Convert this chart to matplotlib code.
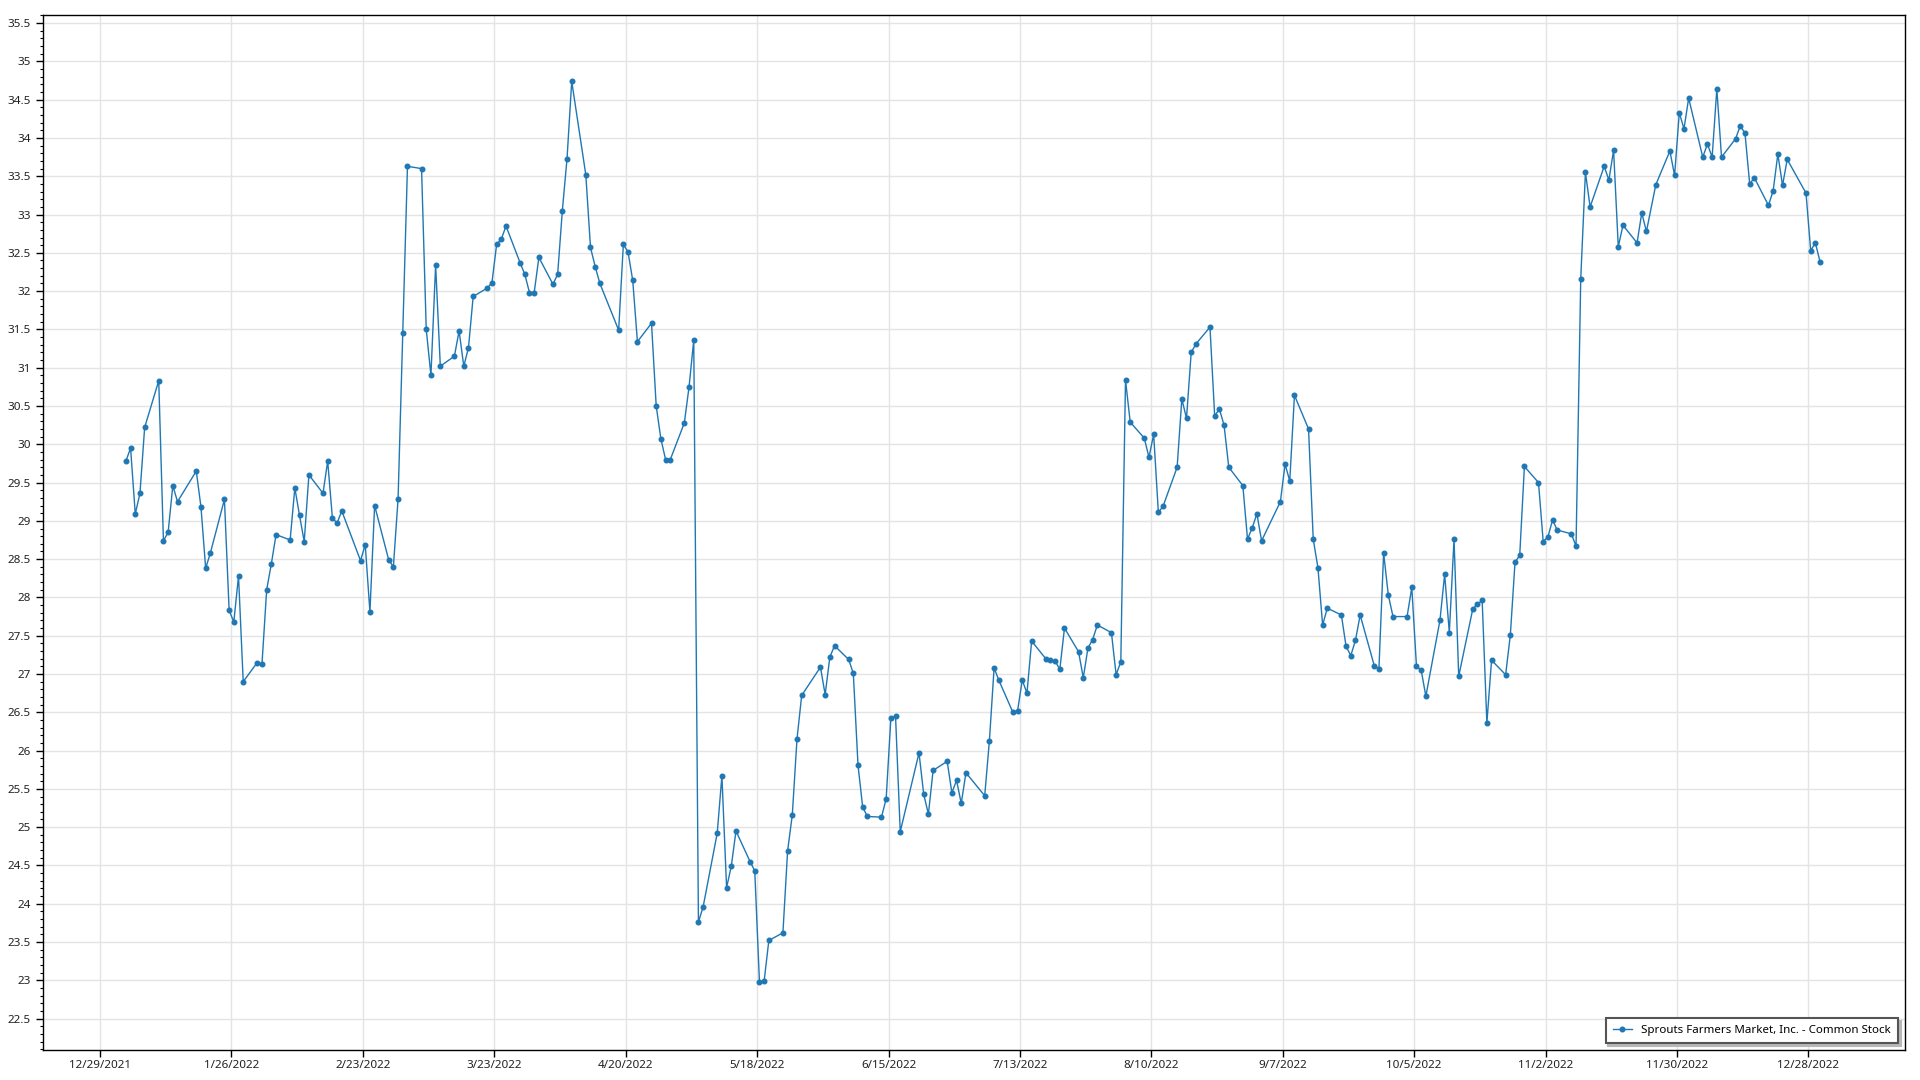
import matplotlib
matplotlib.use("Agg")
import matplotlib.pyplot as plt
from matplotlib.ticker import MultipleLocator, FuncFormatter
import pandas as pd

plt.rcParams["font.family"] = ["Noto Sans", "DejaVu Sans"]

# trading days of 2022 (month/day) and closing prices
dates = [
    "1/3", "1/4", "1/5", "1/6", "1/7", "1/10", "1/11", "1/12", "1/13", "1/14",
    "1/18", "1/19", "1/20", "1/21", "1/24", "1/25", "1/26", "1/27", "1/28", "1/31",
    "2/1", "2/2", "2/3", "2/4", "2/7", "2/8", "2/9", "2/10", "2/11", "2/14",
    "2/15", "2/16", "2/17", "2/18", "2/22", "2/23", "2/24", "2/25", "2/28",
    "3/1", "3/2", "3/3", "3/4", "3/7", "3/8", "3/9", "3/10", "3/11", "3/14",
    "3/15", "3/16", "3/17", "3/18", "3/21", "3/22", "3/23", "3/24", "3/25", "3/28",
    "3/29", "3/30", "3/31",
    "4/1", "4/4", "4/5", "4/6", "4/7", "4/8", "4/11", "4/12", "4/13", "4/14",
    "4/18", "4/19", "4/20", "4/21", "4/22", "4/25", "4/26", "4/27", "4/28", "4/29",
    "5/2", "5/3", "5/4", "5/5", "5/6", "5/9", "5/10", "5/11", "5/12", "5/13",
    "5/16", "5/17", "5/18", "5/19", "5/20", "5/23", "5/24", "5/25", "5/26", "5/27", "5/31",
    "6/1", "6/2", "6/3", "6/6", "6/7", "6/8", "6/9", "6/10", "6/13", "6/14",
    "6/15", "6/16", "6/17", "6/21", "6/22", "6/23", "6/24", "6/27", "6/28", "6/29", "6/30",
    "7/1", "7/5", "7/6", "7/7", "7/8", "7/11", "7/12", "7/13", "7/14", "7/15",
    "7/18", "7/19", "7/20", "7/21", "7/22", "7/25", "7/26", "7/27", "7/28", "7/29",
    "8/1", "8/2", "8/3", "8/4", "8/5", "8/8", "8/9", "8/10", "8/11", "8/12",
    "8/15", "8/16", "8/17", "8/18", "8/19", "8/22", "8/23", "8/24", "8/25", "8/26",
    "8/29", "8/30", "8/31",
    "9/1", "9/2", "9/6", "9/7", "9/8", "9/9", "9/12", "9/13", "9/14", "9/15",
    "9/16", "9/19", "9/20", "9/21", "9/22", "9/23", "9/26", "9/27", "9/28", "9/29", "9/30",
    "10/3", "10/4", "10/5", "10/6", "10/7", "10/10", "10/11", "10/12", "10/13", "10/14",
    "10/17", "10/18", "10/19", "10/20", "10/21", "10/24", "10/25", "10/26", "10/27", "10/28", "10/31",
    "11/1", "11/2", "11/3", "11/4", "11/7", "11/8", "11/9", "11/10", "11/11", "11/14",
    "11/15", "11/16", "11/17", "11/18", "11/21", "11/22", "11/23", "11/25", "11/28", "11/29", "11/30",
    "12/1", "12/2", "12/5", "12/6", "12/7", "12/8", "12/9", "12/12", "12/13", "12/14",
    "12/15", "12/16", "12/19", "12/20", "12/21", "12/22", "12/23", "12/27", "12/28", "12/29", "12/30",
]

close = [
    29.78, 29.95, 29.09, 29.36, 30.22, 30.83, 28.74, 28.85, 29.46, 29.25,
    29.65, 29.18, 28.38, 28.58, 29.28, 27.83, 27.68, 28.28, 26.90, 27.15,
    27.13, 28.10, 28.44, 28.82, 28.75, 29.43, 29.07, 28.73, 29.60, 29.36,
    29.78, 29.04, 28.97, 29.13, 28.48, 28.69, 27.81, 29.20, 28.49,
    28.40, 29.29, 31.45, 33.63, 33.60, 31.50, 30.90, 32.34, 31.02, 31.15,
    31.48, 31.02, 31.26, 31.93, 32.04, 32.11, 32.61, 32.68, 32.85, 32.37,
    32.22, 31.98, 31.98,
    32.44, 32.09, 32.22, 33.05, 33.73, 34.74, 33.52, 32.57, 32.32, 32.10,
    31.49, 32.61, 32.51, 32.14, 31.34, 31.58, 30.50, 30.07, 29.80, 29.80,
    30.28, 30.75, 31.36, 23.76, 23.96, 24.92, 25.67, 24.21, 24.49, 24.95,
    24.55, 24.43, 22.98, 22.99, 23.52, 23.62, 24.69, 25.16, 26.15, 26.72, 27.09,
    26.73, 27.22, 27.37, 27.19, 27.01, 25.81, 25.26, 25.14, 25.13, 25.37,
    26.42, 26.45, 24.94, 25.97, 25.43, 25.17, 25.74, 25.86, 25.45, 25.61, 25.31,
    25.71, 25.41, 26.13, 27.08, 26.92, 26.50, 26.52, 26.92, 26.75, 27.43,
    27.20, 27.18, 27.17, 27.06, 27.60, 27.29, 26.95, 27.34, 27.45, 27.64,
    27.54, 26.99, 27.16, 30.84, 30.29, 30.08, 29.83, 30.13, 29.11, 29.19,
    29.70, 30.59, 30.34, 31.20, 31.31, 31.53, 30.37, 30.46, 30.25, 29.70,
    29.46, 28.76, 28.91,
    29.09, 28.74, 29.25, 29.74, 29.52, 30.64, 30.20, 28.76, 28.39, 27.64,
    27.86, 27.77, 27.36, 27.24, 27.44, 27.77, 27.11, 27.07, 28.58, 28.03, 27.75,
    27.75, 28.13, 27.10, 27.05, 26.71, 27.70, 28.30, 27.54, 28.76, 26.97,
    27.85, 27.91, 27.96, 26.36, 27.18, 26.99, 27.51, 28.46, 28.55, 29.71, 29.50,
    28.73, 28.79, 29.01, 28.88, 28.83, 28.67, 32.16, 33.55, 33.10, 33.63,
    33.45, 33.84, 32.58, 32.86, 32.63, 33.02, 32.78, 33.39, 33.83, 33.51, 34.33,
    34.12, 34.52, 33.75, 33.92, 33.75, 34.64, 33.75, 33.99, 34.16, 34.06,
    33.40, 33.48, 33.12, 33.31, 33.79, 33.38, 33.72, 33.28, 32.53, 32.63, 32.38,
]

tick_dates = ["2021-12-29", "2022-01-26", "2022-02-23", "2022-03-23", "2022-04-20",
              "2022-05-18", "2022-06-15", "2022-07-13", "2022-08-10", "2022-09-07",
              "2022-10-05", "2022-11-02", "2022-11-30", "2022-12-28"]

series_name = "Sprouts Farmers Market, Inc. - Common Stock"

assert len(dates) == len(close)

x = pd.to_datetime(["2022/" + d for d in dates], format="%Y/%m/%d") + pd.Timedelta(hours=12)
ticks = pd.to_datetime(tick_dates)
origin = ticks[0]

fig = plt.figure(figsize=(19.2, 10.8), dpi=100)
ax = fig.add_axes([0.0223, 0.0278, 0.9699, 0.9586])

ax.plot(x, close, color="#1f77b4", lw=1.0, marker="o", ms=3.3,
        label=series_name, zorder=3)

ax.set_xlim(origin - pd.Timedelta(days=12.2), origin + pd.Timedelta(days=384.6))
ax.set_ylim(22.09, 35.61)

ax.set_xticks(ticks)
ax.set_xticklabels([f"{t.month}/{t.day}/{t.year}" for t in ticks])
ax.yaxis.set_major_locator(MultipleLocator(0.5))
ax.yaxis.set_minor_locator(MultipleLocator(0.1))
ax.yaxis.set_major_formatter(FuncFormatter(lambda v, _: f"{v:g}"))

ax.grid(True, which="major", color="#e4e4e4", lw=1)
ax.set_axisbelow(True)
ax.tick_params(axis="both", which="major", length=5, width=1, labelsize=8.4,
               colors="#000000", labelcolor="#222222")
ax.tick_params(axis="x", which="major", pad=2.5)
ax.tick_params(axis="y", which="minor", length=2.5, width=0.8)
for s in ax.spines.values():
    s.set_color("#000000")
    s.set_linewidth(1)

leg = ax.legend(loc="lower right", fontsize=8.3, frameon=True, fancybox=False,
                shadow={"color": "#b8b8b8", "alpha": 1}, edgecolor="#555555",
                borderaxespad=0.6, handlelength=1.7, borderpad=0.6)
leg.get_frame().set_linewidth(1.5)

fig.savefig("out.png", dpi=100)
